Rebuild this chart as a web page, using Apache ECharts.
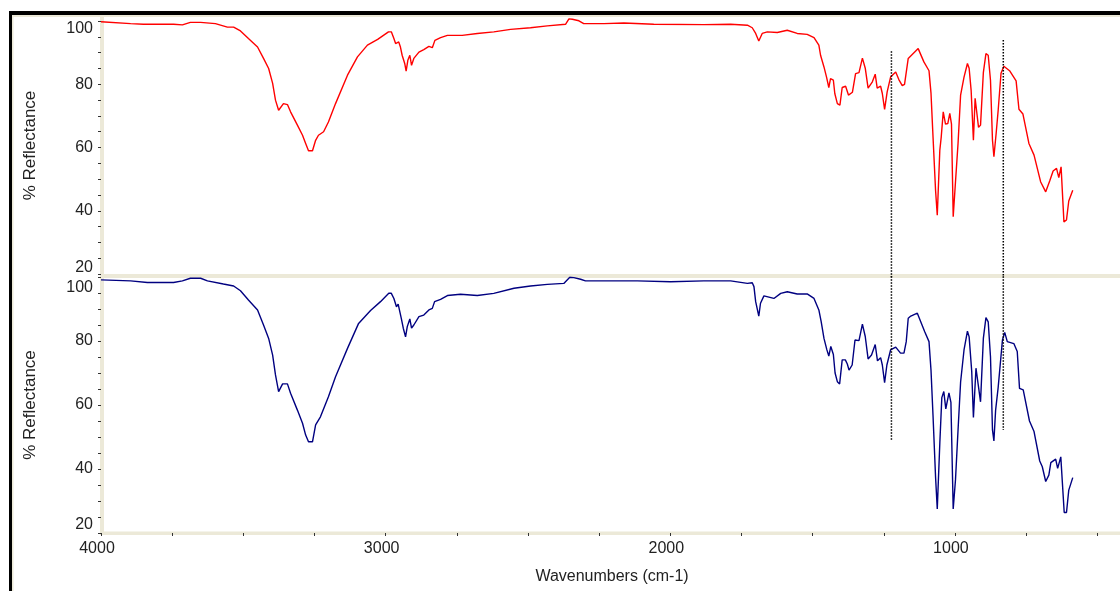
<!DOCTYPE html>
<html><head><meta charset="utf-8">
<script src="https://cdn.jsdelivr.net/npm/echarts@6/dist/echarts.min.js"></script>
<style>html,body{margin:0;padding:0;background:#fff}#chart{width:1120px;height:591px}</style>
</head><body><div id="chart"></div><script>
const topWavenumbers = [4000,3896,3851,3745,3714,3686,3650,3598,3556,3534,3510,3482,3450,3429,3411,3397,3387,3376,3359,3345,3334,3310,3292,3281,3271,3257,3246,3236,3218,3201,3176,3134,3099,3064,3028,2990,2980,2971,2965,2959,2954,2948,2942,2933,2928,2922,2915,2909,2901,2883,2866,2848,2836,2827,2807,2783,2731,2678,2620,2561,2491,2432,2368,2356,2344,2321,2304,2233,2163,2058,1882,1788,1729,1712,1700,1689,1677,1659,1624,1589,1554,1519,1495,1478,1472,1460,1451,1443,1437,1427,1422,1413,1404,1396,1384,1374,1360,1349,1337,1325,1315,1305,1290,1280,1273,1261,1255,1247,1238,1226,1208,1197,1185,1177,1164,1129,1109,1091,1084,1078,1068,1062,1060,1053,1048,1041,1033,1025,1018,1012,1006,998,989,980,968,956,950,943,935,929,922,917,910,900,891,883,875,868,863,855,848,838,828,808,785,775,761,740,722,699,681,667,655,643,635,627,617,608,600,586];
const topReflectance = [99.8,99.2,99.0,99.0,98.8,99.6,99.6,99.2,98.1,98.1,96.9,94.5,91.8,88.2,85.0,80.3,75.0,71.8,73.9,73.6,71.3,67.1,63.9,61.3,59.0,59.0,62.3,63.9,65.0,68.1,73.9,82.9,88.7,92.4,94.2,96.6,96.6,94.5,92.9,92.4,93.4,91.8,89.2,86.6,84.2,87.6,89.2,86.0,88.2,90.2,91.0,92.0,91.6,93.9,94.8,95.5,95.5,96.1,96.6,97.4,97.9,98.5,99.0,100.7,100.6,100.1,99.2,99.2,99.4,99.0,98.9,99.0,98.7,97.9,96.1,93.7,96.1,96.6,96.4,97.1,96.1,95.8,94.8,92.4,89.2,85.5,82.3,79.0,81.8,81.3,77.1,73.9,73.4,79.0,79.4,76.6,77.5,83.4,83.7,88.3,85.1,78.8,80.8,83.2,78.8,79.4,77.1,72.1,77.6,82.3,83.9,81.5,79.6,80.0,88.2,91.3,87.1,84.3,77.2,65.5,46.5,38.6,38.6,59.2,63.4,71.3,67.4,67.6,70.8,67.4,38.1,49.1,61.3,76.6,82.3,86.6,85.1,78.1,62.3,75.6,76.0,66.4,67.1,83.8,89.7,89.2,81.3,62.3,57.1,64.6,71.8,83.5,85.7,84.3,81.1,72.1,70.6,61.3,57.6,49.2,46.0,49.4,52.6,53.4,50.5,53.9,36.5,37.1,43.1,46.5];
const bottomWavenumbers = [4000,3896,3837,3745,3714,3686,3650,3626,3570,3534,3510,3482,3450,3429,3411,3397,3387,3376,3362,3345,3334,3310,3292,3281,3271,3257,3246,3229,3201,3176,3134,3095,3053,3018,2989,2980,2971,2962,2956,2950,2945,2938,2930,2924,2915,2909,2901,2883,2866,2848,2836,2828,2807,2783,2737,2678,2620,2549,2491,2432,2374,2353,2339,2315,2298,2233,2116,1999,1882,1788,1729,1712,1706,1700,1689,1683,1671,1636,1612,1589,1554,1519,1495,1478,1470,1460,1450,1443,1436,1427,1421,1413,1405,1396,1385,1378,1372,1361,1351,1337,1325,1315,1305,1293,1280,1272,1261,1255,1247,1239,1226,1208,1191,1179,1171,1164,1155,1132,1106,1091,1084,1077,1068,1062,1060,1053,1046,1039,1032,1021,1014,1006,998,989,980,968,956,950,941,935,926,918,910,900,891,883,875,868,863,857,848,833,825,816,793,781,773,760,738,722,702,693,681,670,663,646,639,628,616,608,600,586];
const bottomReflectance = [99.1,98.8,98.3,98.3,98.8,99.6,99.6,98.8,97.8,97.2,95.7,92.8,89.7,85.0,80.8,75.6,69.4,64.2,66.6,66.6,63.7,58.4,54.3,50.6,48.5,48.5,53.8,56.3,62.6,68.8,77.7,85.5,89.5,92.3,94.9,94.9,93.3,90.7,91.5,91.8,87.1,84.0,81.3,84.5,86.9,84.0,85.0,87.6,88.1,89.7,90.2,92.3,93.0,94.2,94.6,94.2,94.9,96.5,97.2,97.7,98.0,99.9,99.8,99.3,98.8,98.8,98.8,98.5,98.8,98.8,98.0,98.2,97.0,92.3,87.8,91.8,94.1,93.3,94.9,95.4,94.7,94.7,93.3,89.7,86.1,80.8,77.3,75.3,78.3,75.8,70.0,67.3,66.6,74.1,74.1,72.8,70.9,72.5,80.3,80.1,85.3,81.4,74.4,75.6,78.9,73.8,74.8,72.5,67.0,72.5,77.2,78.1,76.2,76.2,79.8,87.1,87.8,88.7,82.9,79.8,70.9,56.9,37.5,27.5,27.2,48.1,62.3,64.2,58.8,63.8,60.8,27.5,36.6,52.2,67.2,77.2,83.1,81.3,70.6,56.1,71.5,66.3,61.0,80.9,87.3,86.0,75.1,52.2,48.8,58.4,65.5,80.3,82.7,79.8,79.2,76.7,65.2,64.7,55.0,51.7,42.5,40.7,36.1,38.1,42.0,43.1,40.2,43.8,26.4,26.4,33.4,37.3];
const yTickLabels = [20, 40, 60, 80, 100];
const yTicks = [20,25,30,35,40,45,50,55,60,65,70,75,80,85,90,95,100];
const xTickLabels = [4000, 3000, 2000, 1000];
const xTicks = [4000,3750,3500,3250,3000,2750,2500,2250,2000,1750,1500,1250,1000,750,500];
const markerWavenumbers = [1223, 830];
const markerTopStart = [90.5, 94.0];
const markerBottomEnd = [48.8, 52.2];

const zip = (xs, ys) => xs.map((x, i) => [x, ys[i]]);
const BEIGE = '#ECE9D8';
const FONT = 'Liberation Sans, Arial, sans-serif';
const chart = echarts.init(document.getElementById('chart'));

function yAxisFor(gridIndex, max, hiPad, loPad) {
  return {
    type: 'value', gridIndex, min: 20, max,
    axisLine: { show: false },
    splitLine: { show: false },
    axisTick: { show: true, customValues: yTicks, length: 3, lineStyle: { color: '#333' } },
    axisLabel: {
      customValues: yTickLabels, margin: 8, fontSize: 16, color: '#222', fontFamily: FONT,
      formatter: v => v === 100 ? '{hi|100}' : (v === 20 ? '{lo|20}' : String(v)),
      rich: {
        hi: { padding: [hiPad, 0, 0, 0], fontSize: 16, color: '#222', fontFamily: FONT },
        lo: { padding: [0, 0, loPad, 0], fontSize: 16, color: '#222', fontFamily: FONT }
      }
    },
    name: '% Reflectance', nameLocation: 'middle', nameGap: 62, nameRotate: 90,
    nameTextStyle: { fontSize: 17, color: '#222', fontFamily: FONT }
  };
}

const markerSeries = [];
markerWavenumbers.forEach((wn, i) => {
  markerSeries.push({
    type: 'line', xAxisIndex: 0, yAxisIndex: 0, clip: false, showSymbol: false, silent: true, z: 5,
    data: [[wn, markerTopStart[i]], [wn, 19]],
    lineStyle: { color: '#000', width: 1.5, type: [1.5, 1.5] }
  });
  markerSeries.push({
    type: 'line', xAxisIndex: 1, yAxisIndex: 1, clip: false, showSymbol: false, silent: true, z: 5,
    data: [[wn, 100.2], [wn, markerBottomEnd[i]]],
    lineStyle: { color: '#000', width: 1.5, type: [1.5, 1.5] }
  });
});

chart.setOption({
  animation: false,
  backgroundColor: '#fff',
  grid: [
    { left: 101, right: 0, top: 17, height: 257 },
    { left: 101, right: 0, top: 277, height: 256 }
  ],
  xAxis: [
    { type: 'value', gridIndex: 0, min: 420, max: 4000, inverse: true, show: false },
    { type: 'value', gridIndex: 1, min: 420, max: 4000, inverse: true,
      axisLine: { show: false }, splitLine: { show: false },
      axisTick: { show: true, customValues: xTicks, length: 3, lineStyle: { color: '#333' } },
      axisLabel: { customValues: xTickLabels, margin: 8, fontSize: 16, color: '#222', fontFamily: FONT,
        padding: [0, 8, 0, 0], formatter: v => String(v) },
      name: 'Wavenumbers (cm-1)', nameLocation: 'middle', nameGap: 36,
      nameTextStyle: { fontSize: 16, color: '#222', fontFamily: FONT, padding: [0, 0, 0, 3] }
    }
  ],
  yAxis: [ yAxisFor(0, 101.3, 14, 13), yAxisFor(1, 100, 22, 17) ],
  graphic: [
    { type: 'rect', shape: { x: 9, y: 11, width: 1111, height: 4 }, style: { fill: '#000' } },
    { type: 'rect', shape: { x: 9, y: 11, width: 3, height: 580 }, style: { fill: '#000' } },
    { type: 'rect', shape: { x: 12, y: 15, width: 1108, height: 2 }, style: { fill: BEIGE } },
    { type: 'rect', shape: { x: 12, y: 15, width: 1.5, height: 576 }, style: { fill: BEIGE } },
    { type: 'rect', shape: { x: 100, y: 17, width: 4, height: 518 }, style: { fill: BEIGE } },
    { type: 'rect', shape: { x: 100, y: 274, width: 1020, height: 4 }, style: { fill: BEIGE } },
    { type: 'rect', shape: { x: 100, y: 531.5, width: 1020, height: 3.5 }, style: { fill: BEIGE } }
  ],
  series: [
    { type: 'line', xAxisIndex: 0, yAxisIndex: 0, showSymbol: false, z: 3,
      data: zip(topWavenumbers, topReflectance), lineStyle: { color: '#ff0000', width: 1.4 } },
    { type: 'line', xAxisIndex: 1, yAxisIndex: 1, showSymbol: false, z: 3,
      data: zip(bottomWavenumbers, bottomReflectance), lineStyle: { color: '#000080', width: 1.4 } }
  ].concat(markerSeries)
});
</script></body></html>
